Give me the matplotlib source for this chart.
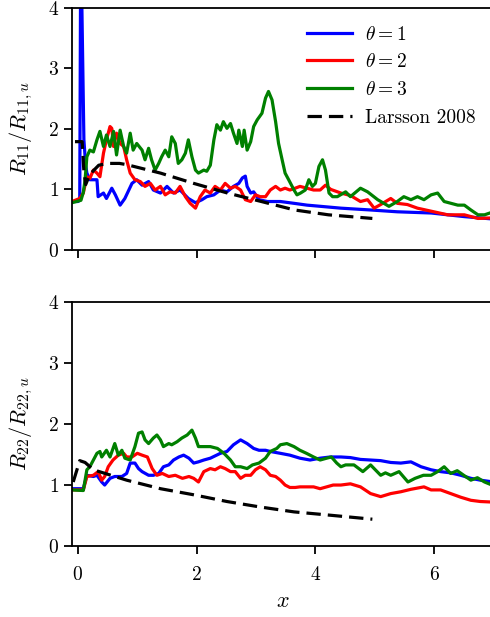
import numpy as np
from matplotlib import pyplot as plt

plt.rcParams['font.family'] = 'serif'
plt.rcParams['font.serif'] = ['cmr10']
plt.rcParams['mathtext.fontset'] = 'cm'
plt.rcParams['axes.formatter.use_mathtext'] = True
plt.rcParams['axes.unicode_minus'] = False

# ---- top panel: R11 / R11,u ----
x11_t1 = [-0.1, 0.0, 0.03, 0.05, 0.06, 0.10, 0.13, 0.15, 0.20, 0.32, 0.34, 0.43, 0.48, 0.57, 0.63,
          0.71, 0.79, 0.91, 0.99, 1.08, 1.19, 1.27, 1.39, 1.50, 1.61, 1.72, 1.86, 1.98, 2.09,
          2.17, 2.29, 2.40, 2.51, 2.62, 2.71, 2.77, 2.82, 2.85, 2.91, 2.96, 3.05, 3.19,
          3.41, 3.64, 3.86, 4.09, 4.43, 4.93, 5.38, 5.95, 6.51, 7.0]
y11_t1 = [0.8, 0.8, 0.82, 6.0, 4.4, 1.82, 1.4, 1.27, 1.16, 1.16, 0.88, 0.94, 0.85, 1.02, 0.91,
          0.74, 0.85, 1.10, 1.16, 1.07, 1.13, 0.99, 0.94, 1.05, 0.94, 0.99, 0.85, 0.78, 0.83,
          0.88, 0.91, 0.99, 0.96, 1.05, 1.10, 1.19, 1.22, 1.05, 0.94, 0.96, 0.83, 0.80,
          0.80, 0.77, 0.74, 0.72, 0.69, 0.66, 0.63, 0.61, 0.55, 0.51]

x11_t2 = [-0.1, 0.03, 0.09, 0.15, 0.20, 0.26, 0.32, 0.37, 0.43, 0.48, 0.54, 0.57, 0.60, 0.65,
          0.71, 0.77, 0.82, 0.88, 0.96, 1.05, 1.13, 1.22, 1.30, 1.39, 1.47, 1.55, 1.64, 1.72,
          1.81, 1.89, 1.98, 2.06, 2.14, 2.23, 2.31, 2.40, 2.48, 2.57, 2.65, 2.74, 2.82, 2.91,
          2.99, 3.07, 3.16, 3.24, 3.33, 3.41, 3.49, 3.57, 3.66, 3.74, 3.86, 3.97, 4.08, 4.17,
          4.26, 4.43, 4.59, 4.76, 4.88, 4.99, 5.10, 5.27, 5.38, 5.55, 5.72, 5.95, 6.23, 6.51,
          6.74, 7.0]
y11_t2 = [0.80, 0.85, 0.94, 1.21, 1.18, 1.32, 1.27, 1.21, 1.60, 1.82, 2.04, 2.01, 1.71, 1.93,
          1.76, 1.71, 1.49, 1.27, 1.16, 1.13, 1.05, 1.10, 0.99, 1.05, 0.91, 0.96, 0.94, 1.05,
          0.88, 0.77, 0.69, 0.88, 0.99, 0.94, 1.05, 0.99, 1.10, 1.02, 1.05, 0.99, 0.83, 0.80,
          0.91, 0.88, 0.88, 0.99, 1.05, 0.99, 1.02, 0.99, 1.02, 1.05, 1.02, 0.99, 0.99, 1.07,
          1.00, 0.94, 0.90, 0.80, 0.83, 0.69, 0.75, 0.85, 0.77, 0.75, 0.69, 0.64, 0.58, 0.58,
          0.52, 0.53]

x11_t3 = [-0.1, 0.05, 0.09, 0.12, 0.15, 0.20, 0.26, 0.32, 0.37, 0.43, 0.48, 0.54, 0.60, 0.65,
          0.71, 0.77, 0.82, 0.88, 0.93, 0.99, 1.08, 1.13, 1.19, 1.24, 1.30, 1.36, 1.41, 1.47,
          1.53, 1.58, 1.64, 1.69, 1.75, 1.81, 1.86, 1.92, 1.98, 2.03, 2.12, 2.17, 2.23, 2.29,
          2.34, 2.40, 2.45, 2.51, 2.57, 2.62, 2.68, 2.71, 2.77, 2.80, 2.85, 2.91, 2.96, 3.02,
          3.10, 3.16, 3.21, 3.27, 3.33, 3.38, 3.44, 3.49, 3.55, 3.64, 3.69, 3.75, 3.83, 3.89,
          3.95, 4.00, 4.06, 4.12, 4.17, 4.23, 4.29, 4.37, 4.51, 4.59, 4.76, 4.88, 5.05, 5.24,
          5.38, 5.49, 5.61, 5.72, 5.83, 5.95, 6.06, 6.17, 6.40, 6.51, 6.62, 6.74, 6.85, 7.0]
y11_t3 = [0.78, 0.82, 0.95, 1.16, 1.54, 1.65, 1.62, 1.82, 1.96, 1.71, 1.90, 1.71, 1.96, 1.57,
          1.98, 1.71, 1.60, 1.93, 1.65, 1.76, 1.65, 1.49, 1.68, 1.49, 1.32, 1.43, 1.54, 1.65,
          1.54, 1.87, 1.76, 1.43, 1.49, 1.60, 1.82, 1.54, 1.32, 1.27, 1.32, 1.30, 1.40, 1.82,
          2.07, 1.98, 2.12, 2.01, 2.09, 1.93, 1.76, 1.98, 1.71, 1.98, 1.65, 1.79, 2.04, 2.15,
          2.26, 2.51, 2.62, 2.48, 2.12, 1.76, 1.49, 1.27, 1.16, 0.99, 0.91, 0.94, 0.99, 1.16,
          1.05, 1.10, 1.38, 1.49, 1.32, 0.94, 0.88, 0.88, 0.96, 0.88, 1.02, 0.96, 0.83, 0.72,
          0.80, 0.88, 0.83, 0.88, 0.83, 0.91, 0.94, 0.80, 0.74, 0.74, 0.66, 0.58, 0.58, 0.63]

x11_lar = [-0.05, 0.07, 0.1, 0.13, 0.2, 0.35, 0.5, 0.7, 0.82, 1.39, 1.95, 2.52, 3.09, 3.65,
           4.22, 4.96]
y11_lar = [1.79, 1.79, 1.3, 1.08, 1.25, 1.40, 1.43, 1.43, 1.41, 1.27, 1.10, 0.94, 0.80, 0.66,
           0.58, 0.52]

# ---- bottom panel: R22 / R22,u ----
x22_t1 = [-0.1, 0.09, 0.15, 0.26, 0.32, 0.40, 0.45, 0.54, 0.62, 0.74, 0.82, 0.88, 0.96, 1.02,
          1.08, 1.19, 1.27, 1.36, 1.44, 1.53, 1.61, 1.70, 1.78, 1.87, 1.95, 2.03, 2.12, 2.23,
          2.40, 2.51, 2.62, 2.74, 2.85, 2.96, 3.05, 3.16, 3.24, 3.41, 3.57, 3.74, 3.91, 4.08,
          4.25, 4.43, 4.59, 4.76, 4.93, 5.10, 5.27, 5.44, 5.61, 5.78, 5.95, 6.11, 6.28, 6.45,
          6.62, 6.78, 7.0]
y22_t1 = [0.94, 0.94, 1.16, 1.14, 1.16, 1.05, 1.00, 1.11, 1.14, 1.14, 1.19, 1.36, 1.36, 1.27,
          1.22, 1.16, 1.16, 1.19, 1.30, 1.33, 1.41, 1.46, 1.49, 1.44, 1.36, 1.38, 1.41, 1.44,
          1.52, 1.55, 1.66, 1.74, 1.68, 1.60, 1.57, 1.57, 1.55, 1.52, 1.49, 1.44, 1.41, 1.44,
          1.46, 1.46, 1.45, 1.42, 1.41, 1.40, 1.37, 1.36, 1.38, 1.30, 1.25, 1.22, 1.20, 1.16,
          1.11, 1.08, 1.05]

x22_t2 = [-0.1, 0.09, 0.15, 0.26, 0.34, 0.40, 0.45, 0.51, 0.59, 0.68, 0.77, 0.82, 0.91, 1.00,
          1.08, 1.17, 1.25, 1.33, 1.42, 1.53, 1.64, 1.76, 1.87, 1.95, 2.03, 2.12, 2.23, 2.31,
          2.40, 2.48, 2.57, 2.65, 2.74, 2.82, 2.91, 2.99, 3.07, 3.16, 3.24, 3.33, 3.41, 3.49,
          3.57, 3.66, 3.74, 3.86, 3.97, 4.08, 4.19, 4.30, 4.43, 4.59, 4.76, 4.93, 5.10, 5.27,
          5.44, 5.61, 5.83, 5.95, 6.11, 6.28, 6.45, 6.62, 6.78, 7.0]
y22_t2 = [0.92, 0.92, 1.14, 1.16, 1.22, 1.08, 1.14, 1.30, 1.41, 1.49, 1.52, 1.46, 1.46, 1.52,
          1.49, 1.46, 1.27, 1.16, 1.19, 1.14, 1.16, 1.11, 1.14, 1.11, 1.05, 1.22, 1.27, 1.25,
          1.30, 1.27, 1.22, 1.22, 1.11, 1.16, 1.16, 1.25, 1.30, 1.25, 1.16, 1.14, 1.08, 1.00,
          0.96, 0.96, 0.97, 0.97, 0.97, 0.94, 0.97, 1.00, 1.00, 1.02, 0.97, 0.86, 0.81, 0.86,
          0.89, 0.93, 0.97, 0.92, 0.92, 0.86, 0.80, 0.75, 0.73, 0.72]

x22_t3 = [-0.1, 0.09, 0.15, 0.20, 0.26, 0.32, 0.37, 0.40, 0.48, 0.54, 0.62, 0.68, 0.74, 0.79,
          0.88, 0.96, 1.02, 1.08, 1.13, 1.19, 1.27, 1.33, 1.39, 1.44, 1.53, 1.58, 1.67, 1.75,
          1.84, 1.92, 1.98, 2.03, 2.12, 2.23, 2.35, 2.46, 2.57, 2.65, 2.74, 2.85, 2.94, 3.05,
          3.16, 3.24, 3.35, 3.41, 3.52, 3.64, 3.74, 3.85, 3.97, 4.08, 4.19, 4.27, 4.36, 4.43,
          4.51, 4.65, 4.80, 4.93, 5.10, 5.18, 5.27, 5.41, 5.56, 5.68, 5.82, 5.95, 6.06, 6.17,
          6.28, 6.39, 6.50, 6.62, 6.73, 6.85, 7.0]
y22_t3 = [0.92, 0.91, 1.25, 1.30, 1.41, 1.52, 1.55, 1.46, 1.57, 1.46, 1.68, 1.49, 1.57, 1.44,
          1.41, 1.63, 1.85, 1.87, 1.74, 1.68, 1.77, 1.82, 1.74, 1.63, 1.68, 1.66, 1.71, 1.77,
          1.82, 1.90, 1.77, 1.63, 1.63, 1.63, 1.60, 1.52, 1.41, 1.30, 1.30, 1.27, 1.33, 1.36,
          1.44, 1.55, 1.60, 1.66, 1.68, 1.63, 1.57, 1.52, 1.46, 1.41, 1.44, 1.46, 1.36, 1.30,
          1.33, 1.33, 1.22, 1.33, 1.16, 1.20, 1.16, 1.22, 1.05, 1.11, 1.16, 1.16, 1.22, 1.30,
          1.19, 1.235, 1.16, 1.08, 1.12, 1.05, 0.99]

x22_lar = [-0.08, 0.03, 0.12, 0.26, 0.82, 1.39, 1.95, 2.51, 3.07, 3.64, 4.20, 4.96]
y22_lar = [1.05, 1.40, 1.37, 1.25, 1.08, 0.94, 0.84, 0.73, 0.64, 0.56, 0.51, 0.44]

labels = [r'$\theta = 1$', r'$\theta = 2$', r'$\theta = 3$', 'Larsson 2008']
colors = ['blue', 'red', 'green']

fig = plt.figure(figsize=(4.9, 6.17), dpi=100)
ax1 = fig.add_axes([0.147, 0.595, 0.86, 0.392])
ax2 = fig.add_axes([0.147, 0.115, 0.86, 0.3955])

panels = [
    (ax1, [(x11_t1, y11_t1), (x11_t2, y11_t2), (x11_t3, y11_t3)], (x11_lar, y11_lar),
     r'$R_{11}/R_{11,u}$'),
    (ax2, [(x22_t1, y22_t1), (x22_t2, y22_t2), (x22_t3, y22_t3)], (x22_lar, y22_lar),
     r'$R_{22}/R_{22,u}$'),
]

for ax, series, lar, ylab in panels:
    for (xs, ys), c, lab in zip(series, colors, labels):
        ax.plot(xs, ys, color=c, lw=2.3, label=lab)
    ax.plot(lar[0], lar[1], '--k', lw=2.3, dashes=(4.5, 2.2), label=labels[3])
    ax.set_xlim(-0.1, 7.0)
    ax.set_ylim(0, 4)
    ax.set_yticks(np.arange(0, 5, 1))
    ax.set_xticks(np.arange(0, 7, 2))
    ax.set_ylabel(ylab, fontsize=16, labelpad=9)
    ax.tick_params(labelsize=14, width=1.3, length=5.5, pad=4)
    ax.tick_params(axis='x', pad=9)
    for s in ax.spines.values():
        s.set_linewidth(1.3)

ax1.set_xticklabels([])
ax1.legend(loc='upper right', frameon=False, fontsize=14, handlelength=2.3,
           handletextpad=0.7, borderaxespad=0.5, labelspacing=0.5)
ax2.set_xlabel(r'$x$', fontsize=16, labelpad=5)

plt.savefig('out.png', dpi=100)
